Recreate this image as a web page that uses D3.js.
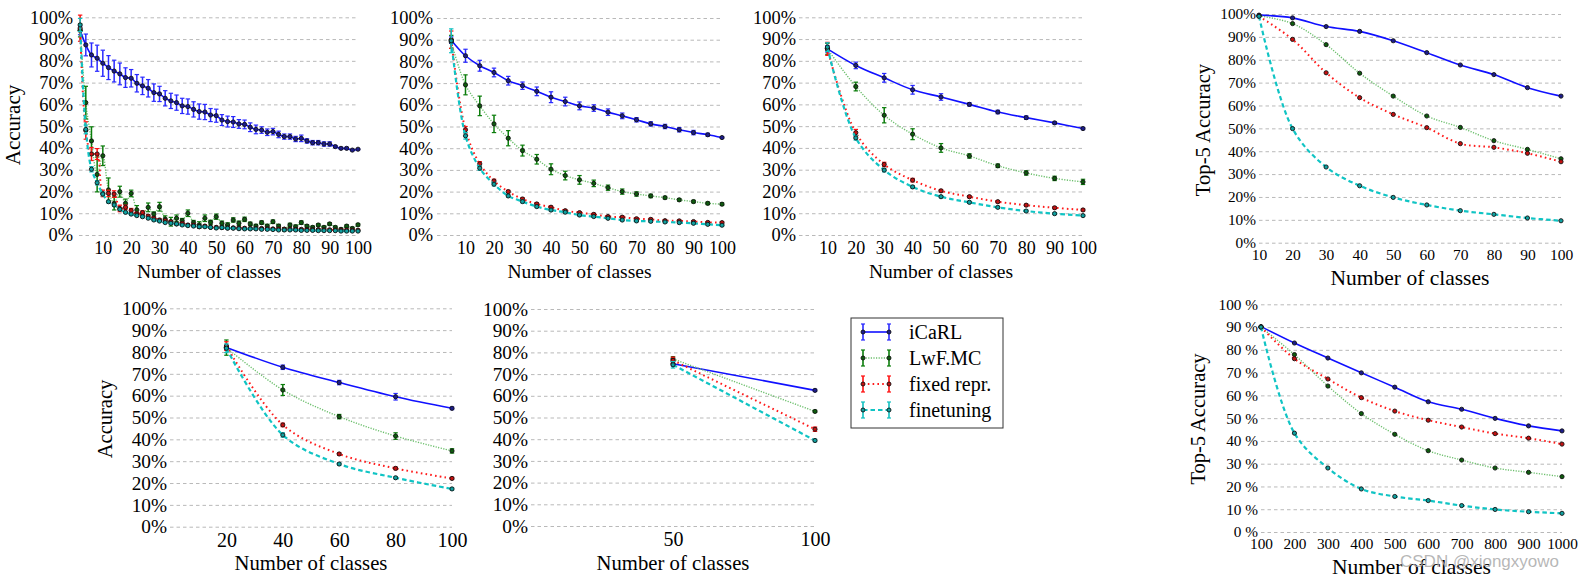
<!DOCTYPE html>
<html><head><meta charset="utf-8">
<script src="https://cdn.jsdelivr.net/npm/d3@7"></script>
<style>
html,body{margin:0;padding:0;background:#fff;}
svg{display:block;}
</style></head><body>
<svg id="chart" width="1583" height="580"></svg>
<script>
// ---------------- DATA ----------------
const seriesNames = ["iCaRL", "LwF.MC", "fixed repr.", "finetuning"];
const yTickValues = [0,10,20,30,40,50,60,70,80,90,100];

// Panel 1: 2 classes per batch
const p1Classes = [2,4,6,8,10,12,14,16,18,20,22,24,26,28,30,32,34,36,38,40,42,44,46,48,50,52,54,56,58,60,62,64,66,68,70,72,74,76,78,80,82,84,86,88,90,92,94,96,98,100];
const p1Ticks = [10,20,30,40,50,60,70,80,90,100];
const p1ICaRL = [94,87.3,82.7,81.2,78.9,76.9,75.3,74,72.3,72, 69.7,68.5,67.4,65.4,64.8,62.8,61.6,60.8,59.3,59, 57.7,56.7,56.5,55.1,54.8,52.8,52.1,51.9,51,50.8, 49.5,48.5,48.2,47.2,47.5,46.2,45.2,45.2,44.1,44.4, 43.2,42.4,42.4,41.8,41.8,40.6,39.8,39.8,39,39.4];
const p1ICaRLErr = [2,5,5.5,6,6,5.5,5,5,4.5,4, 4,4,4,4,3.5,3.5,3.5,3.5,3.5,3.5, 3.5,3.5,3.5,3,3,2.5,2.5,2.5,2,2, 2,2,1.5,1.5,1.5,1.5,1.2,1.2,1.2,1.5, 1,1,1,1,1,0.5,0.5,0.5,0.3,0.3];
const p1LwF = [94,60.8,43.2,27.8,36.4,20.7,14.5,19.9,14.5,19.1, 11.5,9.2,12.7,9.6,13,7.3,6.1,7.7,6.6,10, 5.7,4.6,7.7,5.8,8.4,5.4,4.6,6.9,5.4,7.2, 5.1,4.1,5.7,4.1,6.1,4.1,2.6,4.6,3.8,5.7, 4.1,3.5,4.6,3.5,5.1,3.5,2.6,4.1,3,4.7];
const p1LwFErr = [3,7.5,6.5,8,4.5,5.5,3,2.5,2,1.5, 2,1,2,1,2,1.5,2,1.5,1,1.5, 1,1.5,1.5,1,1.2,1,1,1,1,1, 0.8,0.8,0.8,0.8,0.8,0.8,0.8,0.8,0.8,0.8, 0.6,0.6,0.6,0.6,0.6,0.6,0.6,0.6,0.6,0.6];
const p1Fixed = [95,48,37.2,37.2,19.1,19.1,18.8,12.2,12.7,11.2, 9.6,10.3,8.7,7.7,6.9,6.6,6.1,5.1,5.4,4.6, 4.6,3.8,4.1,3.5,3.5,3.4,3.3,3.3,3.2,3.1, 3.0,3.0,3.0,2.9,2.8,2.8,2.7,2.7,2.6,2.6, 2.5,2.5,2.5,2.4,2.4,2.3,2.3,2.3,2.2,2.2];
const p1FixedErr = [6,4,3,2.5,1.5,1.5,1.5,1.5,1,1, 0.8,0.8,0.6,0.6,0.5,0.5,0.5,0.5,0.5,0.5, 0.5,0.5,0.5,0.5,0.5,0.5,0.5,0.5,0.5,0.5, 0.4,0.4,0.4,0.4,0.4,0.4,0.4,0.4,0.4,0.4, 0.4,0.4,0.4,0.4,0.4,0.4,0.4,0.4,0.4,0.4];
const p1Fine = [96.5,48.5,30.2,24,18.8,15.3,13.8,11.8,10.4,9.6, 8.9,8.4,7.7,6.9,6.4,5.7,5.4,5.1,4.6,4.3, 4.1,3.8,3.8,3.5,3.2,3.4,3.1,3.1,2.9,2.8, 2.8,2.8,2.6,2.6,2.5,2.3,2.3,2.3,2.3,2.1, 2.1,2.1,2.0,2.0,2.0,2.0,1.8,1.8,1.8,1.8];
const p1FineErr = [3,2,1.2,1,0.8,0.6,0.6,0.5,0.5,0.5, 0.4,0.4,0.4,0.4,0.4,0.4,0.4,0.4,0.4,0.4, 0.4,0.4,0.4,0.4,0.4,0.4,0.4,0.4,0.4,0.4, 0.3,0.3,0.3,0.3,0.3,0.3,0.3,0.3,0.3,0.3, 0.3,0.3,0.3,0.3,0.3,0.3,0.3,0.3,0.3,0.3];

// Panel 2: 5 classes per batch
const p2Classes = [5,10,15,20,25,30,35,40,45,50,55,60,65,70,75,80,85,90,95,100];
const p2Ticks = [10,20,30,40,50,60,70,80,90,100];
const p2ICaRL = [89.8,82.6,78,74.9,71.1,68.8,66.2,63.5,61.5,59.5,58.5,56.6,54.9,53.1,51.2,50,48.5,47.2,46.2,44.9];
const p2ICaRLErr = [1.5,3,2.5,2,2,1.7,2,2.5,2,1.8,1.5,1.5,1.3,1,1,1,1,1,0.7,0.4];
const p2LwF = [89,69.2,59.5,51.2,44.6,38.9,34.9,30.3,27.4,25.4,23.8,21.8,20,18.9,18,17.2,16.2,15.4,14.6,14.2];
const p2LwFErr = [3,4.6,4.5,4,3.5,2.5,2.2,2.5,2,2,1.5,1.2,1.2,1,0.8,0.6,0.6,0.6,0.6,0.6];
const p2Fixed = [90,48.5,32.8,24.9,20,16.6,14.3,12.8,11.2,10.3,9.5,8.5,8.2,7.5,7.2,6.6,6.5,6.2,5.8,5.7];
const p2FixedErr = [4,1.5,1,0.8,0.6,0.6,0.6,0.5,0.5,0.5,0.5,0.5,0.5,0.5,0.5,0.4,0.4,0.4,0.4,0.4];
const p2Fine = [89.5,45.7,30.8,23.4,18,15.4,13.1,11.5,10.5,9.2,8.5,7.7,6.9,6.5,6.3,6,5.7,5.4,4.9,4.5];
const p2FineErr = [5.5,1.5,1,0.8,0.6,0.6,0.5,0.5,0.5,0.5,0.4,0.4,0.4,0.4,0.4,0.4,0.4,0.4,0.4,0.4];

// Panel 3: 10 classes per batch
const p3Classes = [10,20,30,40,50,60,70,80,90,100];
const p3Ticks = [10,20,30,40,50,60,70,80,90,100];
const p3ICaRL = [85.5,77.9,72.2,66.7,63.4,60,56.5,53.9,51.5,48.9];
const p3ICaRLErr = [1.5,1.5,2,2,1.5,0.8,0.8,0.8,0.6,0.5];
const p3LwF = [85.5,68.2,55,46.3,40,36.3,31.8,28.5,26,24.4];
const p3LwFErr = [2.5,2,3.5,2.5,2,1,0.8,1,1,1.2];
const p3Fixed = [85.5,47,32.4,25.2,20.3,17.6,15.3,13.7,12.5,11.5];
const p3FixedErr = [3,1.5,1,0.8,0.6,0.5,0.5,0.5,0.5,0.5];
const p3Fine = [86.3,44.6,29.8,22.1,17.6,15,12.7,11,9.8,8.9];
const p3FineErr = [2,1,0.8,0.6,0.5,0.5,0.4,0.4,0.4,0.4];

// Panel 4: top-5 accuracy, 10 classes per batch
const p4Classes = [10,20,30,40,50,60,70,80,90,100];
const p4Ticks = [10,20,30,40,50,60,70,80,90,100];
const p4ICaRL = [99.5,98.3,94.5,92.4,88.3,83.1,77.7,73.5,67.8,64.1];
const p4LwF = [99.2,95.8,86.6,74.1,64.1,55.4,50.4,44.6,40.8,36.7];
const p4Fixed = [99,88.9,74.3,63.4,56.1,50.3,43.3,41.7,39.1,35.4];
const p4Fine = [99,49.9,33.1,24.9,19.8,16.5,14,12.4,10.8,9.6];

// Panel 5: 20 classes per batch
const p5Classes = [20,40,60,80,100];
const p5Ticks = [20,40,60,80,100];
const p5ICaRL = [82.1,73,66,59.5,54.2];
const p5ICaRLErr = [1,1,1,1.5,0.6];
const p5LwF = [82,62.6,50.4,41.5,34.7];
const p5LwFErr = [3.5,2.5,1,1.5,1];
const p5Fixed = [82.7,46.6,33.3,26.7,22.1];
const p5FixedErr = [2,0.8,0.6,0.6,0.5];
const p5Fine = [81.7,42,28.7,22.4,17.3];
const p5FineErr = [2,1,0.6,0.5,0.5];

// Panel 6: 50 classes per batch
const p6Classes = [50,100];
const p6Ticks = [50,100];
const p6ICaRL = [74.8,62.5];
const p6ICaRLErr = [1,0.5];
const p6LwF = [77,52.8];
const p6LwFErr = [1,0.5];
const p6Fixed = [76.3,44.6];
const p6FixedErr = [1.5,1];
const p6Fine = [74.3,39.4];
const p6FineErr = [1.5,0.6];

// Panel 7: top-5 accuracy, 100 classes per batch (1000 classes)
const p7Classes = [100,200,300,400,500,600,700,800,900,1000];
const p7Ticks = [100,200,300,400,500,600,700,800,900,1000];
const p7ICaRL = [90.2,83,76.4,69.9,63.6,57.2,53.9,49.9,46.6,44.4];
const p7LwF = [90,77.9,64.1,52,42.9,35.7,31.6,28.1,26.2,24.3];
const p7Fixed = [90,76.1,67.2,59,53.1,49.1,46.1,43.2,41.2,38.6];
const p7Fine = [90,43.4,28.1,18.9,15.6,13.8,11.6,9.9,8.9,8.2];

// ---------------- STYLES ----------------
const SERIF = '"Liberation Serif","Times New Roman",serif';
const styles = [
  {line:"#1010ff", dash:null, width:1.6, err:"#2a2aff", fill:"#1c1c8c"},
  {line:"#6cbf6c", dash:"1.2,1.4", width:1.4, err:"#0b7d0b", fill:"#0d5c0d"},
  {line:"#ff1a1a", dash:"1.6,3.2", width:2.0, err:"#ff1010", fill:"#c41010"},
  {line:"#10c4c4", dash:"4.5,3", width:2.2, err:"#10c0c0", fill:"#0fa0a0"}
];

const svg = d3.select("#chart");
const intFmt = d3.format("d");

function panel(cfg){
  const g = svg.append("g");
  const x = d3.scaleLinear().domain(cfg.xDomain).range([cfg.left, cfg.right]);
  const y = d3.scaleLinear().domain([0,100]).range([cfg.bottom, cfg.top]);

  const yAxis = d3.axisLeft(y).tickValues(yTickValues)
    .tickSizeInner(-(cfg.right - cfg.left)).tickSizeOuter(0)
    .tickPadding(cfg.yPad).tickFormat(cfg.yFmt);
  const ya = g.append("g").attr("transform", `translate(${cfg.left},0)`).call(yAxis);
  ya.attr("font-family", SERIF).attr("font-size", cfg.yFont);
  ya.select(".domain").remove();
  ya.selectAll(".tick line").attr("stroke", "#b9b9b9").attr("stroke-width", 1).attr("stroke-dasharray", "3.5,3");
  ya.selectAll(".tick text").attr("fill", "#000");

  const xAxis = d3.axisBottom(x).tickValues(cfg.xTicks).tickSize(0).tickPadding(0).tickFormat(intFmt);
  const xa = g.append("g").attr("transform", `translate(0,${cfg.xLabelY})`).call(xAxis);
  xa.attr("font-family", SERIF).attr("font-size", cfg.xFont);
  xa.select(".domain").remove();
  xa.selectAll(".tick text").attr("dy", "0.35em").attr("fill", "#000");

  g.append("text").attr("x", cfg.titleX !== undefined ? cfg.titleX : (cfg.left + cfg.right) / 2).attr("y", cfg.titleY)
    .attr("dy", "0.35em").attr("text-anchor", "middle")
    .attr("font-family", SERIF).attr("font-size", cfg.titleFont)
    .text("Number of classes");

  if (cfg.yTitle){
    g.append("text").attr("transform", `translate(${cfg.yTitleX},${cfg.yTitleY}) rotate(-90)`)
      .attr("dy", "0.35em").attr("text-anchor", "middle")
      .attr("font-family", SERIF).attr("font-size", cfg.yTitleFont)
      .text(cfg.yTitle);
  }

  const line = d3.line().x(d => x(d.c)).y(d => y(d.v)).curve(d3.curveCatmullRom.alpha(0.5));
  cfg.series.forEach((s, si) => {
    const st = styles[si];
    const pts = s.values.map((v, i) => ({c: cfg.classes[i], v: v, e: s.err ? s.err[i] : 0}));
    const sg = g.append("g");
    sg.append("path").datum(pts).attr("d", line)
      .attr("fill", "none").attr("stroke", st.line).attr("stroke-width", st.width)
      .attr("stroke-dasharray", st.dash);
    if (s.err){
      const eb = sg.selectAll("g.eb").data(pts.filter(d => d.e > 0)).join("g").attr("class", "eb");
      eb.append("line").attr("x1", d => x(d.c)).attr("x2", d => x(d.c))
        .attr("y1", d => y(d.v - d.e)).attr("y2", d => y(d.v + d.e))
        .attr("stroke", st.err).attr("stroke-width", 1.5);
      eb.append("line").attr("x1", d => x(d.c) - 2.2).attr("x2", d => x(d.c) + 2.2)
        .attr("y1", d => y(d.v - d.e)).attr("y2", d => y(d.v - d.e))
        .attr("stroke", st.err).attr("stroke-width", 1.2);
      eb.append("line").attr("x1", d => x(d.c) - 2.2).attr("x2", d => x(d.c) + 2.2)
        .attr("y1", d => y(d.v + d.e)).attr("y2", d => y(d.v + d.e))
        .attr("stroke", st.err).attr("stroke-width", 1.2);
    }
    sg.selectAll("circle").data(pts).join("circle")
      .attr("cx", d => x(d.c)).attr("cy", d => y(d.v)).attr("r", 2.1)
      .attr("fill", st.fill).attr("stroke", "#111").attr("stroke-width", 0.9);
  });
}

const pct = d => d + "%";
const pctSp = d => d + " %";

function mk(a, ae, b, be, c, ce, d, de){
  return [{values:a, err:ae}, {values:b, err:be}, {values:c, err:ce}, {values:d, err:de}];
}

panel({left:79, right:358, top:17.3, bottom:235, xDomain:[1.6,100], classes:p1Classes, xTicks:p1Ticks,
  yFmt:pct, yFont:18.4, yPad:6, xFont:18, xLabelY:248, titleX:209, titleY:271, titleFont:19.5,
  yTitle:"Accuracy", yTitleX:13, yTitleY:125, yTitleFont:21,
  series: mk(p1ICaRL,p1ICaRLErr,p1LwF,p1LwFErr,p1Fixed,p1FixedErr,p1Fine,p1FineErr)});

panel({left:437, right:722, top:18, bottom:235, xDomain:[0,100], classes:p2Classes, xTicks:p2Ticks,
  yFmt:pct, yFont:18.4, yPad:4, xFont:18, xLabelY:248, titleY:271, titleFont:19.5,
  series: mk(p2ICaRL,p2ICaRLErr,p2LwF,p2LwFErr,p2Fixed,p2FixedErr,p2Fine,p2FineErr)});

panel({left:799, right:1083, top:17.3, bottom:235, xDomain:[0,100], classes:p3Classes, xTicks:p3Ticks,
  yFmt:pct, yFont:18.4, yPad:3, xFont:18, xLabelY:248, titleY:271, titleFont:19.5,
  series: mk(p3ICaRL,p3ICaRLErr,p3LwF,p3LwFErr,p3Fixed,p3FixedErr,p3Fine,p3FineErr)});

panel({left:1259, right:1561, top:14, bottom:242.7, xDomain:[10,100], classes:p4Classes, xTicks:p4Ticks,
  yFmt:pct, yFont:15.3, yPad:3, xFont:15.5, xLabelY:255, titleY:277, titleFont:21.5,
  yTitle:"Top-5 Accuracy", yTitleX:1203, yTitleY:130, yTitleFont:20.7,
  series: mk(p4ICaRL,null,p4LwF,null,p4Fixed,null,p4Fine,null)});

panel({left:170, right:452, top:308.3, bottom:526.7, xDomain:[0,100], classes:p5Classes, xTicks:p5Ticks,
  yFmt:pct, yFont:19.3, yPad:3, xFont:20, xLabelY:540, titleY:563, titleFont:20.7,
  yTitle:"Accuracy", yTitleX:105, yTitleY:419, yTitleFont:20.5,
  series: mk(p5ICaRL,p5ICaRLErr,p5LwF,p5LwFErr,p5Fixed,p5FixedErr,p5Fine,p5FineErr)});

panel({left:531, right:815, top:309, bottom:526, xDomain:[0,100], classes:p6Classes, xTicks:p6Ticks,
  yFmt:pct, yFont:19.3, yPad:3, xFont:20, xLabelY:539, titleY:563, titleFont:20.7,
  series: mk(p6ICaRL,p6ICaRLErr,p6LwF,p6LwFErr,p6Fixed,p6FixedErr,p6Fine,p6FineErr)});

panel({left:1261, right:1562, top:304.3, bottom:532, xDomain:[100,1000], classes:p7Classes, xTicks:p7Ticks,
  yFmt:pctSp, yFont:15.3, yPad:3, xFont:15.3, xLabelY:544, titleY:566.5, titleFont:21.5,
  yTitle:"Top-5 Accuracy", yTitleX:1198, yTitleY:419, yTitleFont:20.5,
  series: mk(p7ICaRL,null,p7LwF,null,p7Fixed,null,p7Fine,null)});

// ---------------- LEGEND ----------------
const lg = svg.append("g");
lg.append("rect").attr("x", 851).attr("y", 318).attr("width", 152).attr("height", 110)
  .attr("fill", "#fff").attr("stroke", "#333").attr("stroke-width", 1);
const legY = d3.scalePoint().domain(seriesNames).range([332, 410]);
seriesNames.forEach((name, i) => {
  const st = styles[i];
  const yy = legY(name);
  lg.append("line").attr("x1", 863).attr("x2", 889).attr("y1", yy).attr("y2", yy)
    .attr("stroke", st.line).attr("stroke-width", st.width).attr("stroke-dasharray", st.dash);
  [863, 889].forEach(xx => {
    lg.append("line").attr("x1", xx).attr("x2", xx).attr("y1", yy - 8).attr("y2", yy + 8)
      .attr("stroke", st.err).attr("stroke-width", 1.6);
    lg.append("line").attr("x1", xx - 2).attr("x2", xx + 2).attr("y1", yy - 8).attr("y2", yy - 8)
      .attr("stroke", st.err).attr("stroke-width", 1.2);
    lg.append("line").attr("x1", xx - 2).attr("x2", xx + 2).attr("y1", yy + 8).attr("y2", yy + 8)
      .attr("stroke", st.err).attr("stroke-width", 1.2);
    lg.append("circle").attr("cx", xx).attr("cy", yy).attr("r", 2)
      .attr("fill", st.fill).attr("stroke", "#111").attr("stroke-width", 0.9);
  });
  lg.append("text").attr("x", 909).attr("y", yy).attr("dy", "0.35em")
    .attr("font-family", SERIF).attr("font-size", 20).text(name);
});

// watermark (as in the reference image)
svg.append("text").attr("x", 1400).attr("y", 567)
  .style("font-family", '"Liberation Sans",Arial,sans-serif').attr("font-size", 17)
  .attr("fill", "#aaaaaa").attr("fill-opacity", 0.85).text("CSDN @xiongxyowo");
</script>
</body></html>
